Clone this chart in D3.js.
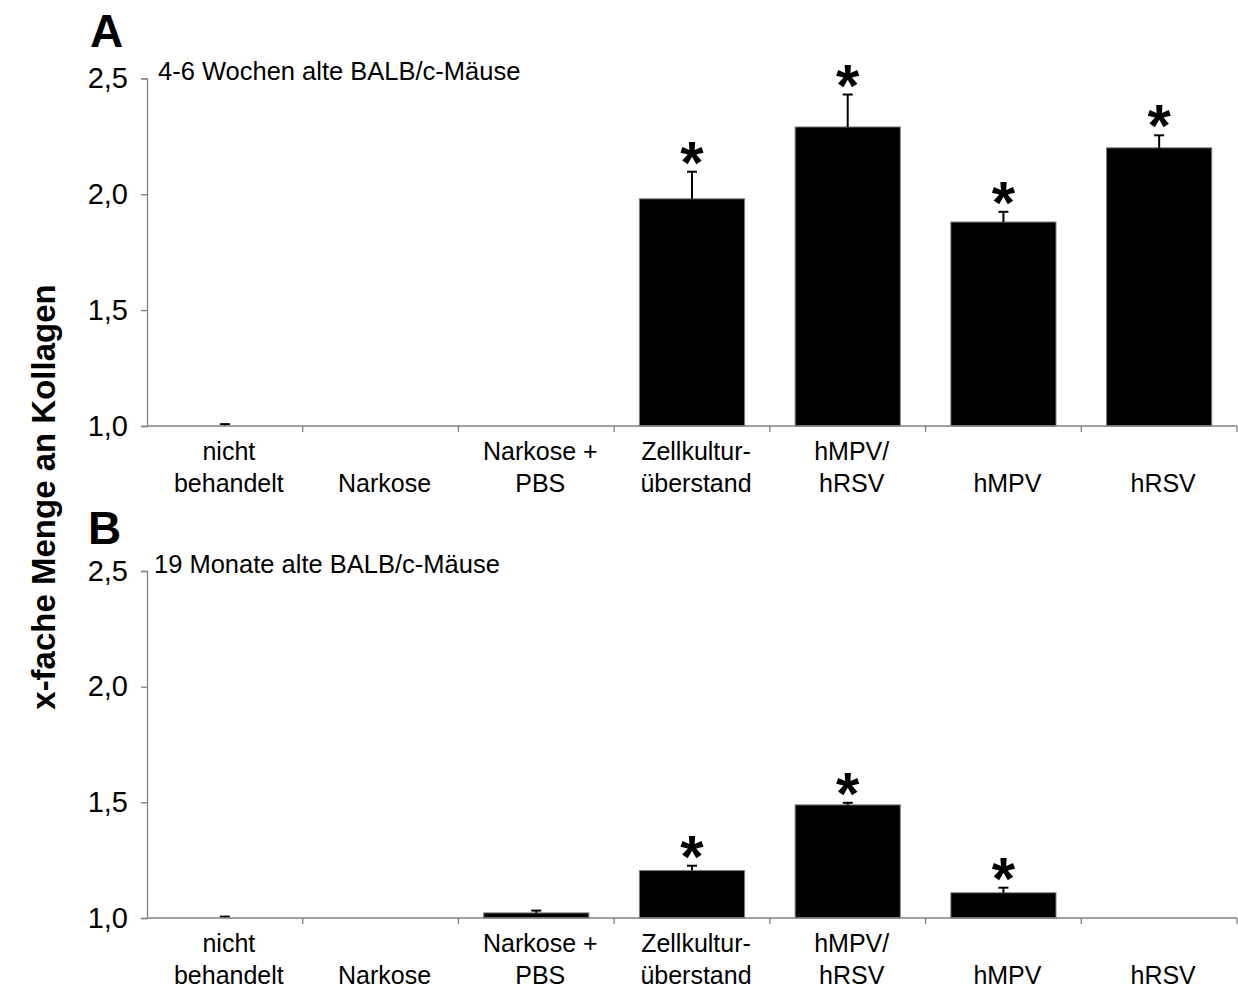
<!DOCTYPE html>
<html>
<head>
<meta charset="utf-8">
<script src="https://cdn.jsdelivr.net/npm/d3@7"></script>
<style>
  html, body { margin: 0; padding: 0; background: #fff; }
  svg { display: block; font-family: "Liberation Sans", Arial, sans-serif; }
</style>
</head>
<body>
<svg id="chart" width="1238" height="987"></svg>
<script>
// Treatment groups (two-line labels split by "\n")
const categories = [
  "nicht\nbehandelt",
  "Narkose",
  "Narkose +\nPBS",
  "Zellkultur-\nüberstand",
  "hMPV/\nhRSV",
  "hMPV",
  "hRSV"
];

// Fold collagen content, young mice (4-6 weeks); null = not shown
const valuesA = [1.0, null, null, 1.98, 2.29, 1.88, 2.20];
const errorsA = [0.008, null, null, 0.117, 0.14, 0.044, 0.054];
const signifA = [false, false, false, true, true, true, true];

// Fold collagen content, old mice (19 months)
const valuesB = [1.0, null, 1.022, 1.205, 1.489, 1.109, null];
const errorsB = [0.006, null, 0.01, 0.021, 0.009, 0.022, null];
const signifB = [false, false, false, true, true, true, false];

const yTicks = [1.0, 1.5, 2.0, 2.5];
const yDomain = [1.0, 2.5];

const panels = [
  { letter: "A", subtitle: "4-6 Wochen alte BALB/c-Mäuse", values: valuesA, errors: errorsA, signif: signifA,
    top: 78.3, bottom: 426, letterY: 47, letterX: 90, subX: 158 },
  { letter: "B", subtitle: "19 Monate alte BALB/c-Mäuse", values: valuesB, errors: errorsB, signif: signifB,
    top: 571, bottom: 918, letterY: 544, letterX: 88, subX: 154 }
];

const svg = d3.select("#chart");
const xLeft = 147, xRight = 1237;
const axisColor = "#808080";
const fmt = d => d3.format(".1f")(d).replace(".", ",");

const x = d3.scaleBand().domain(d3.range(categories.length)).range([xLeft, xRight]).padding(0);
const barFrac = 0.675;
const barW = x.bandwidth() * barFrac;

panels.forEach(p => {
  const y = d3.scaleLinear().domain(yDomain).range([p.bottom, p.top]);
  const g = svg.append("g");

  // panel letter and subtitle
  g.append("text").attr("x", p.letterX).attr("y", p.letterY)
    .attr("font-size", 46).attr("font-weight", "bold").text(p.letter);
  g.append("text").attr("x", p.subX).attr("y", p.top + 2)
    .attr("font-size", 25.5).text(p.subtitle);

  // y axis
  const yAxis = d3.axisLeft(y).tickValues(yTicks).tickFormat(fmt).tickSize(6).tickPadding(13);
  const ya = g.append("g").attr("transform", `translate(${xLeft},0)`).call(yAxis);
  ya.select(".domain").attr("stroke", axisColor).attr("stroke-width", 1.3);
  ya.selectAll(".tick line").attr("stroke", axisColor).attr("stroke-width", 1.3);
  ya.selectAll(".tick text").attr("font-size", 29).attr("fill", "#000")
    .attr("font-family", "Liberation Sans, Arial, sans-serif");

  // bars
  const idx = d3.range(categories.length).filter(i => p.values[i] !== null);
  const bx = i => x(i) + (x.bandwidth() - barW) / 2;
  g.selectAll("rect.bar").data(idx).join("rect").attr("class", "bar")
    .attr("x", i => bx(i)).attr("width", barW)
    .attr("y", i => y(p.values[i]))
    .attr("height", i => y(1.0) - y(p.values[i]))
    .attr("fill", "#000").attr("stroke", "#7a7a7a").attr("stroke-width", 1);

  // error bars (upper half)
  const cx = i => x(i) + x.bandwidth() / 2;
  const eIdx = idx.filter(i => p.errors[i] !== null);
  g.selectAll("line.err").data(eIdx).join("line").attr("class", "err")
    .attr("x1", cx).attr("x2", cx)
    .attr("y1", i => y(p.values[i])).attr("y2", i => y(p.values[i] + p.errors[i]))
    .attr("stroke", "#000").attr("stroke-width", 2);
  g.selectAll("line.cap").data(eIdx).join("line").attr("class", "cap")
    .attr("x1", i => cx(i) - 5).attr("x2", i => cx(i) + 5)
    .attr("y1", i => y(p.values[i] + p.errors[i])).attr("y2", i => y(p.values[i] + p.errors[i]))
    .attr("stroke", "#000").attr("stroke-width", 2);

  // significance asterisks
  const sIdx = eIdx.filter(i => p.signif[i]);
  g.selectAll("text.star").data(sIdx).join("text").attr("class", "star")
    .attr("x", cx).attr("y", i => y(p.values[i] + p.errors[i]) - 24 + 35)
    .attr("text-anchor", "middle").attr("font-size", 60).attr("font-weight", "bold")
    .text("*");

  // x axis with ticks at category boundaries
  const xa = g.append("g");
  xa.append("line").attr("x1", xLeft).attr("x2", xRight).attr("y1", p.bottom).attr("y2", p.bottom)
    .attr("stroke", axisColor).attr("stroke-width", 1.3);
  xa.selectAll("line.xt").data(d3.range(1, categories.length + 1)).join("line").attr("class", "xt")
    .attr("x1", i => xLeft + i * x.step()).attr("x2", i => xLeft + i * x.step())
    .attr("y1", p.bottom).attr("y2", p.bottom + 6)
    .attr("stroke", axisColor).attr("stroke-width", 1.3);

  // category labels; single-line labels sit on the second line
  const lbl = xa.selectAll("text.cat").data(categories).join("text").attr("class", "cat")
    .attr("text-anchor", "middle").attr("font-size", 25);
  lbl.each(function(d, i) {
    const lines = d.split("\n");
    const t = d3.select(this);
    const base = lines.length === 1 ? 1 : 0;
    lines.forEach((ln, k) => {
      t.append("tspan").attr("x", cx(i) + 4).attr("y", p.bottom + 34 + (base + k) * 31.5).text(ln);
    });
  });
});

// shared y-axis title
svg.append("text")
  .attr("transform", "translate(55,497) rotate(-90)")
  .attr("text-anchor", "middle").attr("font-size", 33).attr("font-weight", "bold")
  .text("x-fache Menge an Kollagen");
</script>
</body>
</html>
